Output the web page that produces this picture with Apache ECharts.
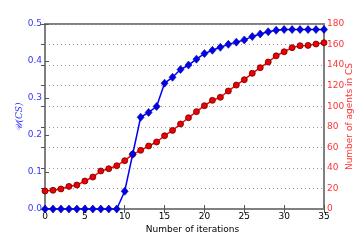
<!DOCTYPE html>
<html><head><meta charset="utf-8">
<script src="https://cdn.jsdelivr.net/npm/echarts@6/dist/echarts.min.js"></script>
<style>html,body{margin:0;padding:0;background:#fff}#c{width:360px;height:240px}</style>
</head><body><div id="c"></div>
<script>
const iterations = [0,1,2,3,4,5,6,7,8,9,10,11,12,13,14,15,16,17,18,19,20,21,22,23,24,25,26,27,28,29,30,31,32,33,34,35];
const utility = [0,0,0,0,0,0,0,0,0,0,0.048,0.148,0.248,0.261,0.277,0.34,0.356,0.377,0.389,0.405,0.42,0.429,0.437,0.445,0.451,0.457,0.466,0.473,0.479,0.483,0.485,0.485,0.485,0.485,0.485,0.485];
const agents = [17.5,18.2,19.5,22,23.3,27.2,31.1,37,39.2,42.1,47,53.2,57.1,61.3,65.2,71.3,76.5,82.7,88.8,94.7,100.5,105.7,108.7,114.8,120.6,125.8,132,137.5,143,149,153,157,158.9,159.2,160.5,161.8];
const xTicks = [0,5,10,15,20,25,30,35];
const leftTicks = [0,0.1,0.2,0.3,0.4,0.5];
const rightTicks = [0,20,40,60,80,100,120,140,160,180];

const chart = echarts.init(document.getElementById('c'), null, {renderer:'canvas'});
const font = 'DejaVu Sans';
chart.setOption({
  animation:false,
  grid:{left:45,right:36,top:24,bottom:31,show:true,borderColor:'#808080',borderWidth:2,backgroundColor:'transparent',containLabel:false,outerBoundsMode:'none'},
  xAxis:[{
    type:'value',min:xTicks[0],max:xTicks[xTicks.length-1],interval:5,position:'bottom',
    name:'Number of iterations',nameLocation:'middle',nameGap:16,nameMoveOverlap:false,
    nameTextStyle:{fontFamily:font,fontSize:9,color:'#000',padding:[0,0,0,16]},
    axisLine:{show:true,lineStyle:{color:'#808080',width:2}},
    axisTick:{show:true,inside:true,length:4,lineStyle:{color:'#555'}},
    axisLabel:{fontFamily:font,fontSize:9,color:'#000',margin:3},
    splitLine:{show:false}
  },{
    type:'value',min:0,max:35,interval:5,position:'top',
    axisLine:{show:true,lineStyle:{color:'#808080',width:2}},
    axisTick:{show:true,inside:true,length:4,lineStyle:{color:'#555'}},
    axisLabel:{show:false},splitLine:{show:false}
  }],
  yAxis:[{
    type:'value',min:leftTicks[0],max:leftTicks[leftTicks.length-1],interval:0.1,position:'left',
    name:'𝒰(CS)',nameLocation:'middle',nameGap:21,nameMoveOverlap:false,
    nameTextStyle:{fontFamily:'DejaVu Serif',fontStyle:'italic',fontSize:9,color:'#3333ff'},
    axisLine:{show:true,lineStyle:{color:'#808080',width:2}},
    axisTick:{show:true,inside:true,length:4,lineStyle:{color:'#555'}},
    axisLabel:{fontFamily:font,fontSize:9,color:'#3333ff',margin:3,formatter:v=>v.toFixed(1)},
    splitLine:{show:false}
  },{
    type:'value',min:rightTicks[0],max:rightTicks[rightTicks.length-1],interval:20,position:'right',
    name:'Number of agents in CS',nameLocation:'middle',nameGap:21,nameRotate:90,nameMoveOverlap:false,
    nameTextStyle:{fontFamily:font,fontSize:9,color:'#ff3333'},
    axisLine:{show:true,lineStyle:{color:'#808080',width:2}},
    axisTick:{show:true,inside:true,length:4,lineStyle:{color:'#555'}},
    axisLabel:{fontFamily:font,fontSize:9,color:'#ff3333',margin:3},
    splitLine:{show:true,lineStyle:{color:'#999',type:[1,3],width:1}}
  }],
  series:[{
    type:'line',yAxisIndex:1,data:iterations.map((x,i)=>[x,agents[i]]),
    symbol:'circle',symbolSize:6,
    lineStyle:{color:'#ff0000',width:1.5},
    itemStyle:{color:'#ee0000',borderColor:'#660000',borderWidth:0.8},
    z:2
  },{
    type:'line',yAxisIndex:0,data:iterations.map((x,i)=>[x,utility[i]]),
    symbol:'diamond',symbolSize:[7,8],
    lineStyle:{color:'#0000ff',width:1.5},
    itemStyle:{color:'#0000ee',borderColor:'#000088',borderWidth:0.6},
    z:3
  }]
});
</script></body></html>
